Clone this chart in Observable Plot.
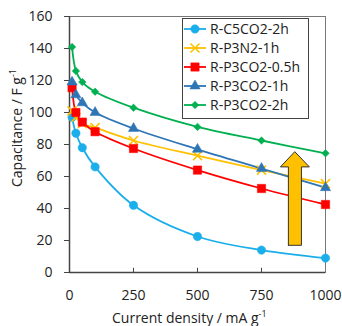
<!DOCTYPE html>
<html><head><meta charset="utf-8">
<script src="https://cdn.jsdelivr.net/npm/d3@7"></script>
<script src="https://cdn.jsdelivr.net/npm/@observablehq/plot@0.6"></script>
<style>
body{margin:0;background:#fff;}
#wrap{position:relative;width:342px;height:326px;font-family:"Open Sans",sans-serif;color:#222;}
.ttl{position:absolute;font-size:14px;line-height:16px;white-space:nowrap;}
.ttl sup{font-size:9px;line-height:0;}
#legend{position:absolute;left:182px;top:18px;width:125px;height:99px;border:1px solid #444;background:#fff;}
.item{display:flex;align-items:center;height:19px;font-size:14px;}
.item svg{margin-right:3px;}
</style></head>
<body><div id="wrap"></div>
<script>
const currents = [10, 25, 50, 100, 250, 500, 750, 1000];
const seriesNames = ["R-C5CO2-2h", "R-P3N2-1h", "R-P3CO2-0.5h", "R-P3CO2-1h", "R-P3CO2-2h"];
const c5co2_2h = [97, 87, 78, 66, 42, 22.5, 14, 9];
const p3n2_1h = [101, 97, 93, 90.5, 82.5, 73, 64, 55.5];
const p3co2_05h = [115.5, 100, 94, 88, 77.5, 64, 52.5, 42.5];
const p3co2_1h = [119, 111, 106, 100, 90, 77, 65, 53];
const p3co2_2h = [141, 126, 119, 113, 103, 91, 82.5, 74.5];
const yTicks = [0, 20, 40, 60, 80, 100, 120, 140, 160];
const xTicks = [0, 250, 500, 750, 1000];
const arrowX = [855, 855, 824, 880, 937, 906, 906, 855];
const arrowY = [17, 66, 66, 75.5, 66, 66, 17, 17];

const colors = ["#1AAEEA", "#FFC000", "#FF0000", "#2E75B6", "#00B050"];
const symbols = ["circle", "times", "square", "triangle", "diamond2"];
const radii = [4.2, 4.2, 4.7, 3.8, 3.4];
const allVals = [c5co2_2h, p3n2_1h, p3co2_05h, p3co2_1h, p3co2_2h];

const rows = [];
allVals.forEach((vals, i) => vals.forEach((v, j) => rows.push({series: seriesNames[i], x: currents[j], y: v, i})));
const arrow = arrowX.map((x, k) => ({x, y: arrowY[k]}));

const marks = [
  Plot.frame({stroke: "#777", strokeWidth: 1}),
  Plot.ruleY([0], {stroke: "#444", strokeWidth: 1.5}),
  Plot.ruleX([0], {stroke: "#444", strokeWidth: 1.5}),
  Plot.ruleX(xTicks.slice(1, 4), {x: d => d, y1: 0, y2: 2.6, stroke: "#444"}),
  Plot.axisY(yTicks, {tickSize: 5, tickPadding: 12, fontSize: 14, label: null, stroke: "#444"}),
  Plot.axisX(xTicks, {tickSize: 0, tickPadding: 18, fontSize: 14, label: null, tickFormat: d => String(d)}),
];
allVals.forEach((vals, i) => {
  const data = rows.filter(r => r.i === i);
  marks.push(Plot.line(data, {x: "x", y: "y", stroke: colors[i], strokeWidth: 1.8, curve: "catmull-rom"}));
});
allVals.forEach((vals, i) => {
  const data = rows.filter(r => r.i === i);
  const stroked = symbols[i] === "times";
  marks.push(Plot.dot(data, {x: "x", y: "y", symbol: () => symbols[i], r: radii[i],
    fill: stroked ? "none" : colors[i], stroke: colors[i], strokeWidth: stroked ? 1.6 : 0.5}));
});
marks.push(Plot.line(arrow, {x: "x", y: "y", fill: "#FFC000", stroke: "#333", strokeWidth: 1, curve: "linear"}));

const chart = Plot.plot({
  width: 342, height: 326,
  marginLeft: 69, marginRight: 17, marginTop: 16, marginBottom: 54,
  x: {domain: [0, 1000]},
  y: {domain: [0, 160]},
  symbol: {type: "identity"},
  style: {fontFamily: "Open Sans, sans-serif", fontSize: "14px", color: "#222", background: "#fff"},
  marks
});
const wrap = document.getElementById("wrap");
wrap.appendChild(chart);

const xt = document.createElement("div");
xt.className = "ttl";
xt.innerHTML = "Current density / mA g<sup>-1</sup>";
xt.style.left = "112px"; xt.style.top = "310px";
wrap.appendChild(xt);

const yt = document.createElement("div");
yt.className = "ttl";
yt.innerHTML = "Capacitance / F g<sup>-1</sup>";
yt.style.left = "17px"; yt.style.top = "128px";
yt.style.transform = "translate(-50%,-50%) rotate(-90deg)";
wrap.appendChild(yt);

const symMap = {times: d3.symbolTimes, circle: d3.symbolCircle, square: d3.symbolSquare, triangle: d3.symbolTriangle, diamond2: d3.symbolDiamond2};
const lg = document.createElement("div");
lg.id = "legend";
seriesNames.forEach((name, i) => {
  const it = document.createElement("div");
  it.className = "item";
  const sym = d3.symbol(symMap[symbols[i]], Math.PI * radii[i] * radii[i])();
  const stroked = symbols[i] === "times";
  it.innerHTML = `<svg width="24" height="14"><line x1="1" x2="23" y1="7" y2="7" stroke="${colors[i]}" stroke-width="1.8"/>
    <path transform="translate(12,7)" d="${sym}" fill="${stroked ? "none" : colors[i]}" stroke="${colors[i]}" stroke-width="${stroked ? 1.6 : 0.5}"/></svg><span>${name}</span>`;
  lg.appendChild(it);
});
wrap.appendChild(lg);
</script></body></html>
